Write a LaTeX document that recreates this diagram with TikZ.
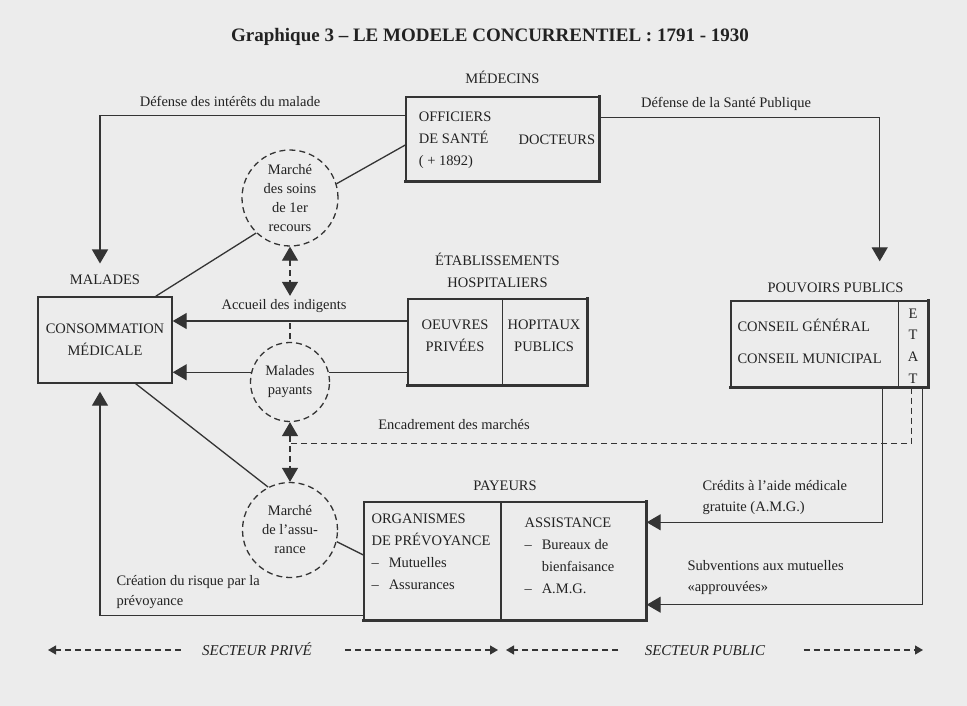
\documentclass[tikz,border=0pt]{standalone}
\usepackage{fontspec}
\setmainfont{Liberation Serif}
\usetikzlibrary{positioning,arrows.meta}
\definecolor{papier}{RGB}{236,236,236}
\definecolor{trait}{RGB}{52,52,52}
\definecolor{encre}{RGB}{34,34,34}
\newcommand{\txt}{\fontsize{14.5}{22}\selectfont}
\newcommand{\rond}{\fontsize{14.5}{19}\selectfont}
\newcommand{\tiret}{--\hspace{10pt}}

\begin{document}
\begin{tikzpicture}[x=1pt,y=-1pt,>={Triangle[length=14pt,width=16pt]},
  every node/.style={text=encre,font=\txt},
  boite/.style={draw=trait,line width=1.4pt,rectangle,inner sep=0pt},
  ombre/.style={draw=trait,line width=2.7pt,line cap=rect},
  marche/.style={draw=trait,dash pattern=on 6pt off 4pt,line width=1.3pt,circle,inner sep=0pt,align=center,font=\rond},
  lien/.style={draw=trait,line width=1.3pt},
  tirets/.style={draw=trait,line width=1.2pt,dash pattern=on 6pt off 4pt},
  secteur/.style={tirets,-{Triangle[length=8pt,width=9pt]}},
  zone/.style={font=\fontsize{15}{18}\selectfont\itshape,text height=10.5pt,text depth=0pt}]
\fill[papier] (0,0) rectangle (967,706);
\useasboundingbox (0,0) rectangle (967,706);
\node[font=\fontsize{19}{22}\selectfont\bfseries] (titre) at (490,37) {Graphique 3 -- LE MODELE CONCURRENTIEL : 1791 - 1930};
\node[boite,minimum width=193pt,minimum height=84pt] (med) at (502.5,139) {};
\node[above=9pt of med] (medlbl) {MÉDECINS};
\node[anchor=west,align=left] (offi) at ([xshift=10pt,yshift=-1pt]med.west) {OFFICIERS\\DE SANTÉ\\( + 1892)};
\node[anchor=east] (doct) at ([xshift=-1pt,yshift=-1pt]med.east) {DOCTEURS};
\node[boite,minimum width=134pt,minimum height=86pt,align=center] (conso) at (105,340) {CONSOMMATION\\MÉDICALE};
\node[above=8pt of conso] (malades) {MALADES};
\node[boite,minimum width=179pt,minimum height=86pt] (hosp) at (497.5,342) {};
\node[above=7pt of hosp,align=center] (hosplbl) {ÉTABLISSEMENTS\\HOSPITALIERS};
\node[align=center] (oeuv) at (455,336) {OEUVRES\\PRIVÉES};
\node[align=center] (hopi) at (544,336) {HOPITAUX\\PUBLICS};
\node[boite,minimum width=197pt,minimum height=86pt] (pp) at (829.5,344) {};
\node[above=4pt of pp,xshift=6pt] (pplbl) {POUVOIRS PUBLICS};
\node[anchor=west,align=left,font=\fontsize{14.5}{32}\selectfont] (cons) at (734,341) {CONSEIL GÉNÉRAL\\CONSEIL MUNICIPAL};
\node[align=center,font=\fontsize{14.5}{21.7}\selectfont] (etat) at (913,346) {E\\T\\A\\T};
\node[boite,minimum width=282pt,minimum height=118pt] (pay) at (505,561) {};
\node[above=7pt of pay] (paylbl) {PAYEURS};
\node[anchor=west,align=left] (prev) at (368,551.5) {ORGANISMES\\DE PRÉVOYANCE\\\tiret Mutuelles\\\tiret Assurances};
\node[anchor=west,align=left] (assi) at (521,556) {ASSISTANCE\\\tiret Bureaux de\\\hphantom{\tiret}bienfaisance\\\tiret A.M.G.};
\node[marche,minimum size=96pt] (soins) at (290,198) {Marché\\des soins\\de 1er\\recours};
\node[marche,minimum size=79pt] (payants) at (290,382) {Malades\\payants};
\node[marche,minimum size=95pt] (assur) at (290,530) {Marché\\de l'assu-\\rance};
\node (defint) at (230,101) {Défense des intérêts du malade};
\node (defsp) at (726,104) {Défense de la Santé Publique};
\node (accueil) at (284,306) {Accueil des indigents};
\node (encad) at (454,425) {Encadrement des marchés};
\node[anchor=west,align=left,font=\fontsize{14.5}{21}\selectfont] (credits) at (699,498) {Crédits à l'aide médicale\\gratuite (A.M.G.)};
\node[anchor=west,align=left,font=\fontsize{14.5}{21}\selectfont] (subv) at (684,578) {Subventions aux mutuelles\\«approuvées»};
\node[anchor=west,align=left,font=\fontsize{14.5}{20}\selectfont] (creation) at (113,592) {Création du risque par la\\prévoyance};
\node[zone] (prive) at (257,650) {SECTEUR PRIVÉ};
\node[zone] (public) at (705,650) {SECTEUR PUBLIC};
\coordinate (pg) at (48,650);
\coordinate (pd) at (498,650);
\coordinate (ug) at (506,650);
\coordinate (ud) at (923,650);
\foreach \b in {med,hosp,pp,pay}
  \draw[ombre] (\b.south west) -- (\b.south east) -- (\b.north east);
\draw[lien] ([xshift=5pt]hosp.north) -- ([xshift=5pt]hosp.south);
\draw[lien] ([xshift=-30pt]pp.north east) -- ([xshift=-30pt]pp.south east);
\draw[lien] ([xshift=-4pt]pay.north) -- ([xshift=-4pt]pay.south);
\draw[lien,->] ([yshift=-19pt]med.north west) -| ([xshift=-5pt,yshift=8pt]malades.north);
\draw[lien,->] ([yshift=-21pt]med.north east) -| ([xshift=-49pt,yshift=39pt]pp.north east);
\draw[lien] ([xshift=-17pt]conso.north east) -- (soins.226);
\draw[lien] (soins.17) -- ([yshift=-6pt]med.west);
\draw[tirets,<->] (soins.south) -- (soins.south |- accueil.north);
\draw[lien,->] ([yshift=21pt]hosp.west) -- ([yshift=21pt]hosp.west -| conso.east);
\draw[tirets] ([yshift=19pt]hosp.west -| payants.north) -- (payants.north);
\draw[lien] (payants.14) -- (payants.14 -| hosp.west);
\draw[lien,->] (payants.166) -- (payants.166 -| conso.east);
\draw[tirets,<->] (payants.south) -- (assur.north);
\draw[tirets] ([xshift=-17pt]pp.south east) |- ([yshift=-21pt]payants.south);
\draw[lien] ([xshift=-37pt]conso.south east) -- (assur.117);
\draw[lien] (assur.-14) -- ([yshift=6pt]pay.west);
\draw[lien,->] ([yshift=5pt]pay.south west) -| ([xshift=-5pt,yshift=-8pt]conso.south);
\draw[lien,->] ([xshift=-46pt]pp.south east) |- ([yshift=-21pt]pay.north east);
\draw[lien,->] ([xshift=-6pt]pp.south east) |- ([yshift=16pt]pay.south east);
\draw[secteur] ([xshift=-18pt]prive.west) -- (pg);
\draw[secteur] ([xshift=30pt]prive.east) -- (pd);
\draw[secteur] ([xshift=-23pt]public.west) -- (ug);
\draw[secteur] ([xshift=35pt]public.east) -- (ud);
\end{tikzpicture}
\end{document}
